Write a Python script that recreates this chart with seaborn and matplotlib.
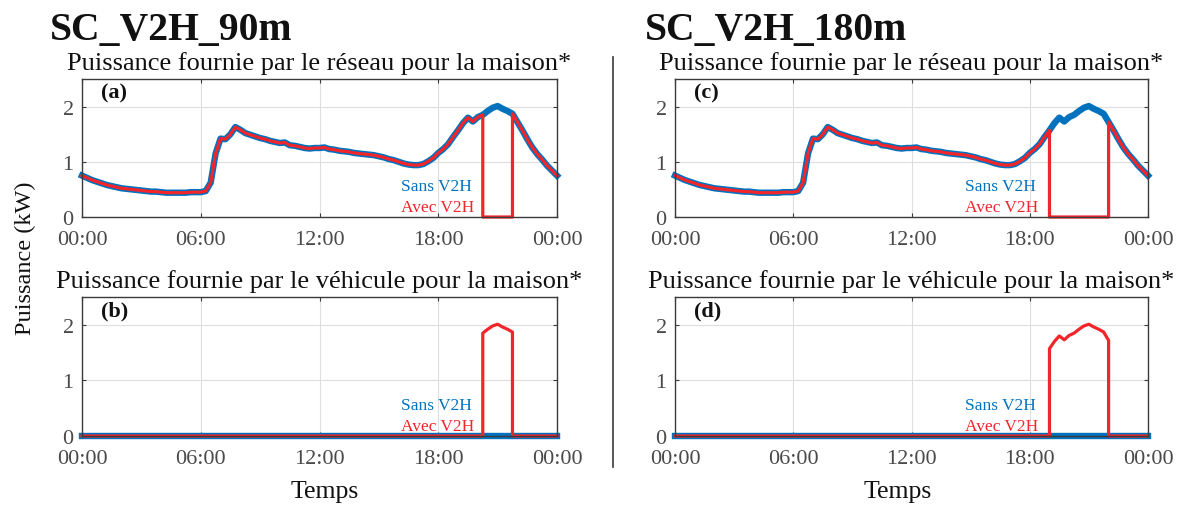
import numpy as np
import pandas as pd
import matplotlib
matplotlib.use("Agg")
import matplotlib.pyplot as plt
import seaborn as sns

# ---------------- data ----------------
# time in hours, 15-min resolution
hours = [i * 0.25 for i in range(97)]
# household load (kW) "Sans V2H"
load_kw = [
    0.75, 0.71, 0.67, 0.64,
    0.61, 0.58, 0.56, 0.54,
    0.52, 0.51, 0.50, 0.49,
    0.48, 0.47, 0.46, 0.46,
    0.45, 0.44, 0.44, 0.44,
    0.44, 0.44, 0.45, 0.45,
    0.45, 0.47, 0.62, 1.15,
    1.42, 1.41, 1.50, 1.63,
    1.58, 1.52, 1.49, 1.46,
    1.43, 1.41, 1.38, 1.36,
    1.34, 1.35, 1.30, 1.29,
    1.27, 1.25, 1.24, 1.25,
    1.25, 1.26, 1.23, 1.22,
    1.20, 1.19, 1.18, 1.16,
    1.15, 1.14, 1.13, 1.12,
    1.10, 1.08, 1.05, 1.03,
    1.00, 0.97, 0.95, 0.94,
    0.94, 0.96, 1.01, 1.07,
    1.16, 1.23, 1.32, 1.45,
    1.57, 1.70, 1.80, 1.73,
    1.81, 1.85, 1.92, 1.98,
    2.01, 1.96, 1.92, 1.87,
    1.72, 1.57, 1.41, 1.26,
    1.14, 1.04, 0.93, 0.84,
    0.75,
]
scenarios = ["SC_V2H_90m", "SC_V2H_180m"]
v2h_start = [20.25, 19.0]
v2h_end = [21.75, 22.0]
panel_letters = [["(a)", "(b)"], ["(c)", "(d)"]]
series_names = ["Sans V2H", "Avec V2H"]
xtick_pos = [0, 6, 12, 18, 24]
xtick_labels = ["00:00", "06:00", "12:00", "18:00", "00:00"]
ytick_pos = [0, 1, 2]
title_top = "Puissance fournie par le réseau pour la maison*"
title_bot = "Puissance fournie par le véhicule pour la maison*"

BLUE = "#0072BD"
RED = "#F2252B"


def split_series(t, load, start, end):
    tt, grid, veh = [], [], []
    for ti, li in zip(t, load):
        if ti == start:
            tt += [ti, ti]; grid += [li, 0.0]; veh += [0.0, li]
        elif ti == end:
            tt += [ti, ti]; grid += [0.0, li]; veh += [li, 0.0]
        elif start < ti < end:
            tt.append(ti); grid.append(0.0); veh.append(li)
        else:
            tt.append(ti); grid.append(li); veh.append(0.0)
    return tt, grid, veh


plt.rcParams["font.family"] = ["Liberation Serif", "DejaVu Serif"]

fig = plt.figure(figsize=(11.77, 5.06), dpi=100)
W, H = 1177.0, 506.0

col_x = [(82, 557), (675, 1148)]
row_y = [(80, 218), (298, 437)]


def make_ax(x0, x1, y0, y1):
    return fig.add_axes([x0 / W, 1 - y1 / H, (x1 - x0) / W, (y1 - y0) / H])


for c, scen in enumerate(scenarios):
    tt, grid, veh = split_series(hours, load_kw, v2h_start[c], v2h_end[c])
    df_top = pd.concat([
        pd.DataFrame({"t": hours, "p": load_kw, "s": series_names[0]}),
        pd.DataFrame({"t": tt, "p": grid, "s": series_names[1]}),
    ])
    df_bot = pd.concat([
        pd.DataFrame({"t": hours, "p": [0.0] * len(hours), "s": series_names[0]}),
        pd.DataFrame({"t": tt, "p": veh, "s": series_names[1]}),
    ])
    for r, (df, ttl) in enumerate([(df_top, title_top), (df_bot, title_bot)]):
        ax = make_ax(col_x[c][0], col_x[c][1], row_y[r][0], row_y[r][1])
        ax.set_axisbelow(True)
        for name, col, lw in [(series_names[0], BLUE, 4.6), (series_names[1], RED, 2.3)]:
            sub = df[df["s"] == name].reset_index(drop=True)
            sns.lineplot(data=sub, x="t", y="p", ax=ax, color=col, lw=lw,
                         sort=False, estimator=None, legend=False, clip_on=False,
                         solid_joinstyle="round")
        ax.set_xlim(0, 24)
        ax.set_ylim(0, 2.5)
        ax.set_xticks(xtick_pos)
        ax.set_xticklabels(xtick_labels)
        ax.set_yticks(ytick_pos)
        ax.grid(True, color="#dedede", lw=0.8)
        ax.set_xlabel("")
        ax.set_ylabel("")
        for sp in ax.spines.values():
            sp.set_color("#3a3a3a")
            sp.set_linewidth(1.0)
        ax.tick_params(direction="in", length=3, width=0.8, colors="#3a3a3a",
                       labelcolor="#4a4a4a", labelsize=16, top=True, right=True,
                       pad=6)
        ax.tick_params(axis="x", pad=9.5)
        ax.set_title(ttl, fontsize=19, pad=7, color="#111111")
        ax.text(0.04, 0.90, panel_letters[c][r], transform=ax.transAxes,
                fontsize=16, fontweight="bold", ha="left", va="center", color="#111111")
        tx = 16.1 if c == 0 else 14.7
        ax.text(tx, 0.56, series_names[0], color=BLUE, fontsize=12.5,
                ha="left", va="center")
        ax.text(tx, 0.18, series_names[1], color=RED, fontsize=12.5,
                ha="left", va="center")

fig.text(50 / W, 1 - 40 / H, scenarios[0], fontsize=28.5, fontweight="bold",
         ha="left", va="baseline", color="#111111")
fig.text(645 / W, 1 - 40 / H, scenarios[1], fontsize=28.5, fontweight="bold",
         ha="left", va="baseline", color="#111111")
fig.text(25 / W, 1 - 258 / H, "Puissance (kW)", rotation=90, fontsize=17.5,
         ha="center", va="center", color="#111111")
fig.text(325 / W, 1 - 492 / H, "Temps", fontsize=18.5, ha="center", va="center",
         color="#111111")
fig.text(898 / W, 1 - 492 / H, "Temps", fontsize=18.5, ha="center", va="center",
         color="#111111")
fig.add_artist(plt.Line2D([613 / W, 613 / W], [1 - 58 / H, 1 - 468 / H],
                          color="#3a3a3a", lw=1.2, transform=fig.transFigure))

fig.savefig("out.png", dpi=100, facecolor="white")
